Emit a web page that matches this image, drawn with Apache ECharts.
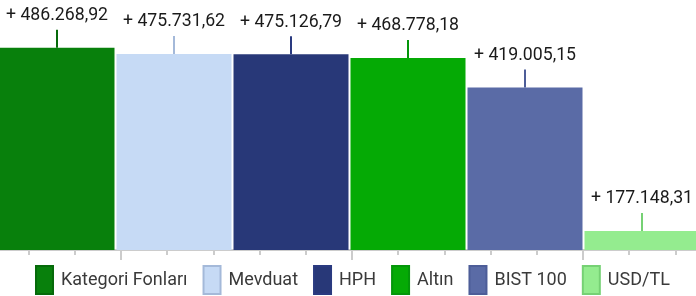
<!DOCTYPE html>
<html>
<head>
<meta charset="utf-8">
<script src="https://cdn.jsdelivr.net/npm/echarts@6/dist/echarts.min.js"></script>
<style>
  html, body { margin: 0; padding: 0; background: #fff; }
  #chart { width: 696px; height: 296px; }
</style>
</head>
<body>
<div id="chart"></div>
<script>
// data
var names = ['Kategori Fonları', 'Mevduat', 'HPH', 'Altın', 'BIST 100', 'USD/TL']
var values = [486268.92, 475731.62, 475126.79, 468778.18, 419005.15, 177148.31]
var barColors = ['#08800c', '#c6daf5', '#283878', '#05aa05', '#5a6ba6', '#94ec8f']
var edgeColors = ['#066a0a', '#a4b9d9', '#2a3a80', '#04960a', '#4d5d98', '#76d174']

function fmt(v) {
    var parts = v.toFixed(2).split('.')
    return '+ ' + parts[0].replace(/\B(?=(\d{3})+(?!\d))/g, '.') + ',' + parts[1]
}

// one series per fund, each only filled in its own slot
var barSeries = names.map(function (name, i) {
    return {
        name: name,
        type: 'bar',
        stack: 'all',
        barWidth: 115,
        itemStyle: { color: barColors[i] },
        label: {
            show: true,
            position: 'top',
            distance: 23,
            fontFamily: 'Roboto',
            fontSize: 17.7,
            color: '#1a1a1a',
            formatter: function (p) { return fmt(p.value) }
        },
        emphasis: { disabled: true },
        data: values.map(function (v, j) { return j === i ? v : '-' })
    }
})

// little stems between value label and bar top
var stems = {
    type: 'scatter',
    silent: true,
    symbol: 'rect',
    symbolSize: [2, 18],
    symbolOffset: [0, '-50%'],
    z: 3,
    data: values.map(function (v, i) {
        return { value: v, itemStyle: { color: edgeColors[i], opacity: 1 } }
    })
}

var option = {
    animation: false,
    grid: [
        { left: -1.5, width: 702, top: 0, bottom: 46, outerBoundsMode: 'none' },
        { left: -110, width: 924, top: 0, bottom: 46, outerBoundsMode: 'none' }
    ],
    xAxis: [
        {
            type: 'category',
            gridIndex: 0,
            data: names,
            axisLine: { lineStyle: { color: '#cccccc', width: 2 } },
            axisTick: { show: false },
            axisLabel: { show: false }
        },
        {
            type: 'value',
            gridIndex: 1,
            min: 0,
            max: 20,
            interval: 5,
            axisLine: { show: false },
            axisLabel: { show: false },
            splitLine: { show: false },
            axisTick: { show: true, length: 10, lineStyle: { color: '#cccccc', width: 2 } },
            minorTick: { show: true, splitNumber: 5, length: 5, lineStyle: { color: '#cccccc', width: 2 } }
        }
    ],
    yAxis: [
        { type: 'value', gridIndex: 0, min: 145100, max: 566700, show: false },
        { type: 'value', gridIndex: 1, show: false }
    ],
    legend: {
        top: 265,
        left: 35,
        padding: 0,
        icon: 'rect',
        itemWidth: 17,
        itemHeight: 28,
        itemGap: 15,
        selectedMode: false,
        textStyle: { fontFamily: 'Roboto', fontSize: 18, color: '#3a3a3a', padding: [0, 0, 0, 3] },
        data: names.map(function (n, i) {
            return { name: n, itemStyle: { color: barColors[i], borderColor: edgeColors[i], borderWidth: 2 } }
        })
    },
    series: barSeries.concat([stems])
}

var chart = echarts.init(document.getElementById('chart'))
chart.setOption(option)
</script>
</body>
</html>
